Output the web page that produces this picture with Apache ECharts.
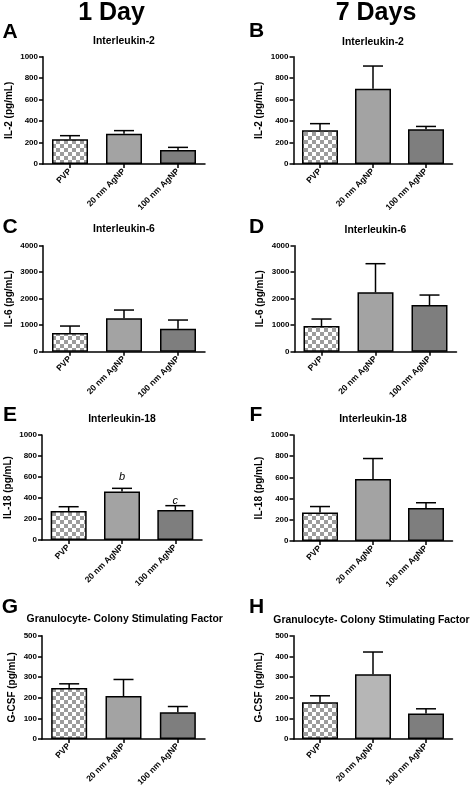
<!DOCTYPE html>
<html>
<head>
<meta charset="utf-8">
<script src="https://cdn.jsdelivr.net/npm/echarts@6.0.0/dist/echarts.min.js"></script>
<style>
html,body{margin:0;padding:0;background:#fff;}
#chart{width:472px;height:789px;}
</style>
</head>
<body>
<div id="chart"></div>
<script>
// ---------- data ----------
const categories = ['PVP', '20 nm AgNP', '100 nm AgNP'];

const meanA = [230, 283, 130];   const errA = [34, 28, 25];     // IL-2, 1 day
const meanB = [314, 702, 323];   const errB = [62, 211, 27];    // IL-2, 7 days
const meanC = [704, 1258, 868];  const errC = [264, 314, 327];  // IL-6, 1 day
const meanD = [968, 2239, 1761]; const errD = [265, 1082, 377]; // IL-6, 7 days
const meanE = [276, 463, 286];   const errE = [41, 29, 41];     // IL-18, 1 day
const meanF = [270, 585, 311];   const errF = [55, 193, 50];    // IL-18, 7 days
const meanG = [247, 208, 129];   const errG = [20, 80, 28];     // G-CSF, 1 day
const meanH = [178, 313, 123];   const errH = [31, 108, 23];    // G-CSF, 7 days

// significance letters on panel E and their heights (pg/mL)
const annotE = ['', 'b', 'c'];
const annotYE = [null, 600, 374];

// y-axis ticks
const ticksIL2 = [0, 200, 400, 600, 800, 1000];
const ticksIL6 = [0, 1000, 2000, 3000, 4000];
const ticksIL18 = [0, 200, 400, 600, 800, 1000];
const ticksGCSF = [0, 100, 200, 300, 400, 500];

const columnTitles = ['1 Day', '7 Days'];

// ---------- styling ----------
const FONT = '"Liberation Sans", Arial, Helvetica, sans-serif';
function checker() {
  const c = document.createElement('canvas');
  c.width = 8; c.height = 8;
  const g = c.getContext('2d');
  g.fillStyle = '#ffffff'; g.fillRect(0, 0, 8, 8);
  g.fillStyle = '#9c9c9c';
  g.fillRect(4, 0, 4, 4); g.fillRect(0, 4, 4, 4);
  return c;
}
const pvpFill = { image: checker(), repeat: 'repeat' };
const c20 = '#a3a3a3', c20light = '#b6b6b6', c100 = '#7e7e7e';

const panels = [
  { id:'A', title:'Interleukin-2', yName:'IL-2 (pg/mL)', mean:meanA, err:errA, ticks:ticksIL2, grid:{left:43, top:56.7, width:162, height:107.3}, lx:10, ly:32.5, ty:41.5, fills:[pvpFill,c20,c100], gap:29 },
  { id:'B', title:'Interleukin-2', yName:'IL-2 (pg/mL)', mean:meanB, err:errB, ticks:ticksIL2, grid:{left:293.5, top:56.7, width:159, height:107.3}, lx:256.5, ly:31, ty:42.5, fills:[pvpFill,c20,c100], gap:29 },
  { id:'C', title:'Interleukin-6', yName:'IL-6 (pg/mL)', mean:meanC, err:errC, ticks:ticksIL6, grid:{left:43, top:245.7, width:162, height:106}, lx:10, ly:227, ty:229.5, fills:[pvpFill,c20,c100], gap:29 },
  { id:'D', title:'Interleukin-6', yName:'IL-6 (pg/mL)', mean:meanD, err:errD, ticks:ticksIL6, grid:{left:294.5, top:245.7, width:162, height:106}, lx:256.5, ly:227.5, ty:230, fills:[pvpFill,c20,c100], gap:29 },
  { id:'E', title:'Interleukin-18', yName:'IL-18 (pg/mL)', mean:meanE, err:errE, ticks:ticksIL18, grid:{left:42, top:435, width:160, height:105}, lx:10, ly:415.5, ty:419, fills:[pvpFill,c20,c100], gap:29, annot:annotE, annotY:annotYE },
  { id:'F', title:'Interleukin-18', yName:'IL-18 (pg/mL)', mean:meanF, err:errF, ticks:ticksIL18, grid:{left:293.5, top:435, width:159, height:106}, lx:256, ly:415.5, ty:419.5, fills:[pvpFill,c20,c100], gap:29 },
  { id:'G', title:'Granulocyte- Colony Stimulating Factor', yName:'G-CSF (pg/mL)', mean:meanG, err:errG, ticks:ticksGCSF, grid:{left:42, top:635.7, width:163, height:106}, lx:10, ly:607.5, ty:619.5, tx:124.7, fills:[pvpFill,c20,c100], gap:25 },
  { id:'H', title:'Granulocyte- Colony Stimulating Factor', yName:'G-CSF (pg/mL)', mean:meanH, err:errH, ticks:ticksGCSF, grid:{left:293.5, top:635.7, width:159, height:106}, lx:256.5, ly:607.5, ty:620, tx:371.5, fills:[pvpFill,c20light,c100], gap:29 }
];

const grids = [], xAxes = [], yAxes = [], series = [], graphics = [];

panels.forEach((p, i) => {
  grids.push(Object.assign({ containLabel:false }, p.grid));
  xAxes.push({
    gridIndex:i, type:'category', data:categories, boundaryGap:true,
    axisLine:{ show:true, lineStyle:{ color:'#000', width:1.5 } },
    axisTick:{ show:true, alignWithLabel:true, length:4, lineStyle:{ color:'#000', width:1.5 } },
    axisLabel:{ rotate:45, interval:0, margin:6, fontSize:8.5, fontWeight:'bold', color:'#000', fontFamily:FONT },
    splitLine:{ show:false }
  });
  const mx = p.ticks[p.ticks.length - 1];
  yAxes.push({
    gridIndex:i, type:'value', min:p.ticks[0], max:mx, interval:p.ticks[1] - p.ticks[0],
    name:p.yName, nameLocation:'middle', nameRotate:90, nameGap:p.gap,
    nameTextStyle:{ fontSize:10, fontWeight:'bold', color:'#000', fontFamily:FONT },
    axisLine:{ show:true, lineStyle:{ color:'#000', width:1.5 } },
    axisTick:{ show:true, length:4, lineStyle:{ color:'#000', width:1.5 } },
    axisLabel:{ fontSize:8, fontWeight:'bold', color:'#000', margin:5, fontFamily:FONT,
      formatter:(v) => String(v) },
    splitLine:{ show:false }
  });
  series.push({
    type:'bar', xAxisIndex:i, yAxisIndex:i, barWidth:36, z:2,
    data:p.mean.map((v, k) => ({ value:v, itemStyle:{ color:p.fills[k], borderColor:'#000', borderWidth:1.5 } })),
    emphasis:{ disabled:true }, animation:false
  });
  series.push({
    type:'custom', xAxisIndex:i, yAxisIndex:i, z:3, animation:false,
    data:p.mean.map((v, k) => [k, v, v + p.err[k]]),
    renderItem:function (params, api) {
      const b = api.coord([api.value(0), api.value(1)]);
      const t = api.coord([api.value(0), api.value(2)]);
      const st = { stroke:'#000', lineWidth:1.5 };
      return { type:'group', children:[
        { type:'line', shape:{ x1:b[0], y1:b[1], x2:b[0], y2:t[1] }, style:st },
        { type:'line', shape:{ x1:b[0] - 10, y1:t[1], x2:b[0] + 10, y2:t[1] }, style:st }
      ]};
    }
  });
  if (p.annot) {
    series.push({
      type:'custom', xAxisIndex:i, yAxisIndex:i, z:4, animation:false,
      data:p.annot.map((a, k) => [k, p.annotY[k]]).filter(d => d[1] !== null),
      renderItem:function (params, api) {
        const c = api.coord([api.value(0), api.value(1)]);
        return { type:'text', x:c[0], y:c[1], style:{ text:p.annot[api.value(0)], font:'italic 11px ' + FONT, fill:'#000', align:'center', verticalAlign:'middle' } };
      }
    });
  }
  const cx = p.tx !== undefined ? p.tx : p.grid.left + p.grid.width / 2;
  graphics.push({ type:'text', x:p.lx, y:p.ly, style:{ text:p.id, font:'bold 21px ' + FONT, fill:'#000', align:'center', verticalAlign:'middle' } });
  graphics.push({ type:'text', x:cx, y:p.ty, style:{ text:p.title, font:'bold 10.4px ' + FONT, fill:'#000', align:'center', verticalAlign:'middle' } });
});

graphics.push({ type:'text', x:111.5, y:13, style:{ text:columnTitles[0], font:'bold 25px ' + FONT, fill:'#000', align:'center', verticalAlign:'middle' } });
graphics.push({ type:'text', x:376, y:13, style:{ text:columnTitles[1], font:'bold 25px ' + FONT, fill:'#000', align:'center', verticalAlign:'middle' } });

const chart = echarts.init(document.getElementById('chart'), null, { renderer:'canvas' });
chart.setOption({
  backgroundColor:'#fff',
  animation:false,
  grid:grids, xAxis:xAxes, yAxis:yAxes, series:series,
  graphic:graphics,
  tooltip:{ show:false }
});
</script>
</body>
</html>
